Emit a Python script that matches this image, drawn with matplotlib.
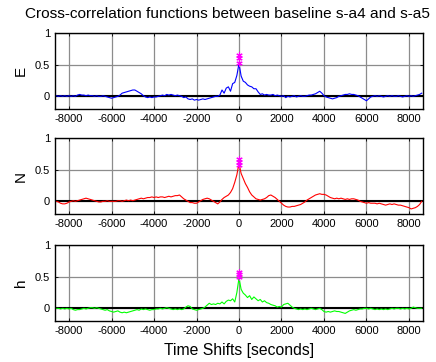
import numpy as np
import matplotlib
matplotlib.use("Agg")
import matplotlib.pyplot as plt

plt.rcParams['font.family'] = ['Liberation Sans', 'DejaVu Sans']

title = "Cross-correlation functions between baseline s-a4 and s-a5"
xlabel = "Time Shifts [seconds]"
component_labels = ["E", "N", "h"]
line_colors = ["#0000ff", "#ff0000", "#00ff00"]
xticks = [-8000, -6000, -4000, -2000, 0, 2000, 4000, 6000, 8000]
yticks = [0, 0.5, 1]
ytick_labels = ["0", "0.5", "1"]

lags = np.arange(-8600, 8601, 100)

corr_E = [
    0.01, 0.0, 0.01, 0.0, 0.01, 0.0, 0.01,
    0.0, 0.01, 0.0, 0.02, 0.03, 0.02, 0.02, 0.01, 0.02, 0.01,
    0.01, 0.0, 0.01, 0.0, 0.0, 0.01, 0.0, -0.01, -0.02, -0.03,
    -0.02, -0.01, 0.0, 0.02, 0.05, 0.06, 0.07, 0.08, 0.09, 0.10,
    0.10, 0.08, 0.06, 0.04, 0.01, -0.01, -0.02, -0.01, -0.02, -0.01,
    -0.01, 0.0, 0.01, 0.02, 0.01, 0.03, 0.02, 0.03, 0.02, 0.01,
    0.02, 0.01, 0.0, -0.02, -0.01, -0.04, -0.05, -0.04, -0.06, -0.05,
    -0.06, -0.05, -0.04, -0.05, -0.04, -0.03, -0.02, -0.01, 0.0, 0.0,
    0.02, 0.1, 0.05, 0.13, 0.15, 0.08, 0.2, 0.22, 0.33, 0.52,
    0.32, 0.24, 0.22, 0.18, 0.16, 0.15, 0.12, 0.12, 0.07, 0.03,
    0.04, 0.02, 0.03, 0.02, 0.02, 0.03, 0.01, 0.02, 0.01, 0.0,
    0.01, -0.02, 0.0, -0.01, 0.0, 0.01, -0.01, 0.0, 0.01, 0.0,
    0.0, 0.01, 0.02, 0.02, 0.03, 0.04, 0.06, 0.08, 0.05, 0.01,
    -0.01, -0.02, -0.03, -0.04, -0.03, -0.02, 0.0, 0.01, 0.02, 0.03,
    0.03, 0.04, 0.03, 0.03, 0.02, 0.01, -0.01, -0.03, -0.05, -0.07,
    -0.04, -0.01, 0.0, 0.01, 0.0, 0.01, 0.0, -0.01, 0.0, 0.01,
    0.0, 0.01, 0.0, 0.0, 0.01, 0.0, -0.01, 0.0, 0.01, 0.0,
    0.01, 0.0, 0.01, 0.02, 0.03, 0.05,
]

corr_N = [
    0.0, -0.01, -0.03, -0.04, -0.04, -0.03, -0.01,
    0.0, 0.01, 0.0, 0.01, 0.02, 0.03, 0.04, 0.05, 0.04, 0.03,
    0.02, 0.01, 0.0, -0.01, -0.01, 0.0, 0.0, 0.01, 0.0, 0.0,
    0.0, 0.0, 0.01, 0.01, 0.0, 0.01, 0.02, 0.01, 0.02, 0.01,
    0.02, 0.03, 0.04, 0.05, 0.04, 0.05, 0.06, 0.06, 0.07, 0.06,
    0.07, 0.06, 0.07, 0.07, 0.06, 0.07, 0.08, 0.07, 0.08, 0.09,
    0.09, 0.1, 0.07, 0.04, 0.02, 0.0, -0.02, -0.02, -0.03, -0.03,
    -0.01, 0.01, 0.03, 0.04, 0.05, 0.04, 0.02, 0.0, -0.02, -0.04,
    -0.01, 0.03, 0.06, 0.08, 0.1, 0.14, 0.2, 0.3, 0.42, 0.6,
    0.44, 0.36, 0.28, 0.22, 0.15, 0.1, 0.07, 0.04, 0.03, 0.02,
    0.03, 0.04, 0.06, 0.09, 0.1, 0.08, 0.06, 0.03, 0.0, -0.03,
    -0.06, -0.08, -0.09, -0.09, -0.08, -0.08, -0.07, -0.06, -0.05, -0.03,
    -0.01, 0.02, 0.04, 0.06, 0.08, 0.1, 0.11, 0.12, 0.11, 0.11,
    0.1, 0.08, 0.06, 0.05, 0.04, 0.05, 0.04, 0.05, 0.04, 0.03,
    0.04, 0.03, 0.04, 0.04, 0.03, 0.02, 0.0, -0.01, -0.02, -0.03,
    -0.02, -0.03, -0.03, -0.03, -0.04, -0.03, -0.04, -0.05, -0.06, -0.05,
    -0.04, -0.05, -0.04, -0.05, -0.06, -0.06, -0.07, -0.08, -0.09, -0.1,
    -0.12, -0.11, -0.1, -0.08, -0.05, 0.0,
]

corr_h = [
    0.0, 0.0, -0.01, 0.0, -0.01, 0.0, -0.01,
    0.0, -0.02, -0.03, -0.02, -0.02, -0.01, 0.0, -0.01, 0.0, 0.01,
    0.01, 0.0, 0.01, 0.0, -0.01, -0.02, -0.03, -0.02, -0.04, -0.05,
    -0.06, -0.05, -0.04, -0.06, -0.07, -0.06, -0.07, -0.06, -0.05, -0.04,
    -0.03, -0.02, -0.03, -0.01, -0.02, -0.01, -0.02, -0.03, -0.02, -0.02,
    -0.01, -0.01, 0.0, -0.01, 0.0, 0.01, 0.0, -0.01, -0.02, -0.01,
    -0.02, -0.01, -0.02, -0.01, 0.02, 0.04, 0.03, -0.01, -0.02, -0.03,
    -0.02, -0.01, 0.0, 0.02, 0.05, 0.08, 0.06, 0.07, 0.06, 0.08,
    0.07, 0.1, 0.07, 0.11, 0.13, 0.12, 0.15, 0.1, 0.25, 0.48,
    0.3, 0.24, 0.21, 0.17, 0.2, 0.14, 0.18, 0.15, 0.12, 0.14,
    0.1, 0.12, 0.09, 0.08, 0.06, 0.05, 0.04, 0.02, 0.03, 0.02,
    0.06, 0.07, 0.08, 0.05, 0.02, 0.0, -0.01, -0.02, -0.01, -0.02,
    -0.01, -0.02, -0.01, 0.0, -0.01, -0.02, -0.01, 0.0, -0.02, -0.05,
    -0.06, -0.05, -0.06, -0.05, -0.04, -0.05, -0.05, -0.06, -0.07, -0.08,
    -0.06, -0.04, -0.03, -0.02, -0.03, -0.02, -0.01, -0.01, 0.0, 0.0,
    -0.01, 0.0, -0.01, -0.02, -0.01, -0.02, -0.01, -0.02, -0.01, -0.02,
    -0.01, 0.0, -0.01, 0.0, 0.0, -0.01, 0.0, -0.01, 0.0, -0.01,
    0.0, 0.02, 0.01, 0.0, 0.0, 0.0,
]

# peak markers (magenta asterisks at zero lag)
peak_lag = 0
peaks_E = [0.53, 0.61, 0.66]
peaks_N = [0.57, 0.62, 0.67]
peaks_h = [0.50, 0.54, 0.58]

series = [corr_E, corr_N, corr_h]
peaks = [peaks_E, peaks_N, peaks_h]

fig = plt.figure(figsize=(4.36, 3.62), dpi=100)
W, H = 436, 362
ax_tops = [33, 138, 245]
ax_h = 76
left, right = 55, 423

asterisk = (6, 2, 0)
for i in range(3):
    top = ax_tops[i]
    ax = fig.add_axes([left / W, 1 - (top + ax_h) / H, (right - left) / W, ax_h / H])
    ax.set_xlim(-8660, 8660)
    ax.set_ylim(-0.2, 1)
    ax.set_xticks(xticks)
    ax.set_xticklabels([str(t) for t in xticks])
    ax.set_yticks(yticks)
    ax.set_yticklabels(ytick_labels)
    ax.grid(True, color="#8c8c8c", linewidth=0.9)
    ax.set_axisbelow(True)
    ax.axhline(0, color="black", linewidth=1.5, zorder=1.5)
    ax.plot(lags, series[i], color=line_colors[i], linewidth=0.8, zorder=2)
    pk = peaks[i]
    ax.plot([peak_lag, peak_lag], [min(pk), max(pk)], color="magenta", linewidth=0.8, zorder=3)
    ax.plot([peak_lag] * len(pk), pk, linestyle="none", marker=asterisk,
            markersize=4.5, color="magenta", markeredgewidth=0.8, zorder=3)
    ax.tick_params(direction="in", top=True, right=True, length=2.5, width=0.6,
                   labelsize=8, pad=3.5)
    for sp in ax.spines.values():
        sp.set_linewidth(1.0)
    ax.set_ylabel(component_labels[i], fontsize=11, labelpad=5)
    if i == 2:
        ax.set_xlabel(xlabel, fontsize=11.3, labelpad=5)

fig.text(227 / W, 1 - 14 / H, title, fontsize=11.1, ha="center", va="center")

fig.savefig("out.png", dpi=100)
